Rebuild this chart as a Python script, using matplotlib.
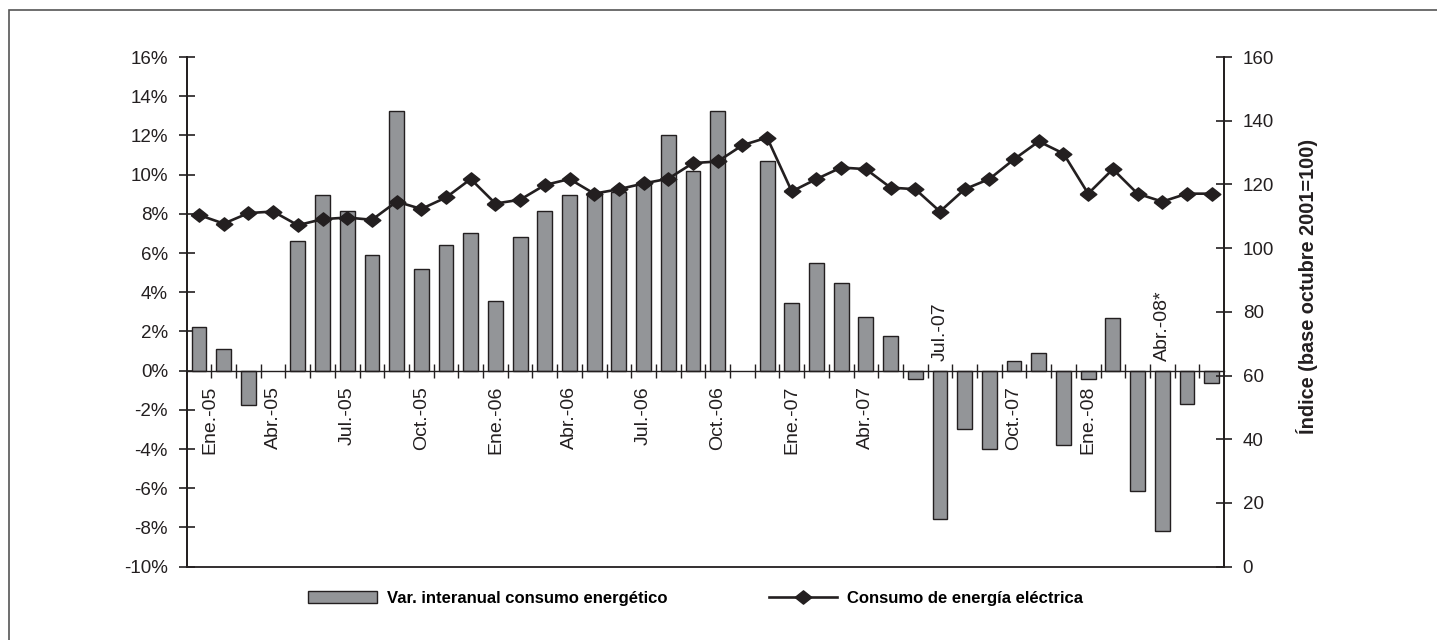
import numpy as np
import matplotlib
matplotlib.use('Agg')
import matplotlib.pyplot as plt
from matplotlib.patches import Rectangle

plt.rcParams['font.family'] = ['Liberation Sans', 'DejaVu Sans']

# monthly categories Ene-05 .. Jun-08
meses = ['Ene.', 'Feb.', 'Mar.', 'Abr.', 'May.', 'Jun.',
         'Jul.', 'Ago.', 'Sep.', 'Oct.', 'Nov.', 'Dic.']
anios = ['05', '06', '07', '08']
categories = [m + '-' + a for a in anios for m in meses][:42]

# interannual variation of energy consumption (%), nan = no bar
var_interanual = [2.24, 1.12, -1.75, np.nan, 6.63, 8.98, 8.16, 5.92, 13.27, 5.20, 6.43, 7.04,
                  3.57, 6.84, 8.16, 8.98, 9.08, 9.10, 9.59, 12.04, 10.20, 13.27, np.nan, 10.71,
                  3.47, 5.51, 4.49, 2.76, 1.77, -0.41, -7.57, -2.97, -3.99, 0.51, 0.92, -3.79,
                  -0.41, 2.67, -6.12, -8.18, -1.72, -0.61]

# electricity consumption index (base octubre 2001 = 100)
consumo_electrico = [110.4, 107.7, 111.0, 111.5, 107.2, 109.1, 109.6, 108.9, 114.6, 112.3, 115.9, 121.7,
                     114.0, 115.2, 119.8, 121.7, 117.1, 118.5, 120.3, 121.8, 126.7, 127.2, 132.3, 134.7,
                     117.8, 121.7, 125.3, 124.8, 119.0, 118.5, 111.5, 118.5, 121.7, 127.9, 133.5, 129.7,
                     117.1, 124.8, 117.1, 114.6, 117.1, 117.1]

# shown category labels (every third month), some written above the axis
shown_labels = {'Ene.-05': 'Ene.-05', 'Abr.-05': 'Abr.-05', 'Jul.-05': 'Jul.-05', 'Oct.-05': 'Oct.-05',
                'Ene.-06': 'Ene.-06', 'Abr.-06': 'Abr.-06', 'Jul.-06': 'Jul.-06', 'Oct.-06': 'Oct.-06',
                'Ene.-07': 'Ene.-07', 'Abr.-07': 'Abr.-07', 'Jul.-07': 'Jul.-07', 'Oct.-07': 'Oct.-07',
                'Ene.-08': 'Ene.-08', 'Abr.-08': 'Abr.-08*'}
labels_above = ['Jul.-07', 'Abr.-08']

left_ticks = list(range(-10, 17, 2))
right_ticks = list(range(0, 161, 20))

BAR_GREY = '#939598'
INK = '#231f20'
FS = 13.5

fig = plt.figure(figsize=(14.37, 6.4), dpi=100)
ax = fig.add_axes([186.7 / 1437, 1 - 566.7 / 640, (1224 - 186.7) / 1437, (566.7 - 57) / 640])
ax2 = ax.twinx()

x = np.arange(len(categories))
bars = ax.bar(x, var_interanual, width=0.6, color=BAR_GREY, edgecolor=INK, linewidth=1.0,
              label='Var. interanual consumo energético', zorder=2)

diamond = [(-1, 0), (0, 0.8), (1, 0), (0, -0.8), (-1, 0)]
line, = ax2.plot(x, consumo_electrico, color=INK, lw=1.9, marker=diamond, markersize=12,
                 markerfacecolor=INK, markeredgecolor=INK, label='Consumo de energía eléctrica', zorder=3)

ax.set_xlim(-0.5, len(categories) - 0.5)
ax.set_ylim(-10, 16)
ax2.set_ylim(0, 160)

# spines
for a in (ax, ax2):
    a.spines['top'].set_visible(False)
    for s in a.spines.values():
        s.set_linewidth(1.3)
        s.set_color(INK)
ax.spines['bottom'].set_position(('data', 0))
ax.spines['bottom'].set_linewidth(1.0)
ax2.spines['bottom'].set_visible(False)
ax.axhline(-10, color=INK, lw=1.3, clip_on=False, zorder=1)

ax.set_yticks(left_ticks)
ax.set_yticklabels(['%d%%' % v for v in left_ticks])
ax2.set_yticks(right_ticks)
ax2.set_yticklabels([str(v) for v in right_ticks])
ax.tick_params(axis='y', direction='inout', length=11, width=1.2, pad=8, labelsize=FS, colors=INK)
ax2.tick_params(axis='y', direction='inout', length=11, width=1.2, pad=8, labelsize=FS, colors=INK)

# category boundaries as ticks, labels drawn as text
ax.set_xticks(np.arange(0.5, len(categories) - 1, 1.0))
ax.set_xticklabels([])
ax.tick_params(axis='x', direction='inout', length=10, width=1.0, colors=INK)

for i, cat in enumerate(categories):
    if cat not in shown_labels:
        continue
    dx = 8 if i == 0 else 0
    if cat in labels_above:
        ax.annotate(shown_labels[cat], xy=(i, 0), xytext=(dx, 7), textcoords='offset points',
                    rotation=90, ha='center', va='bottom', fontsize=14, color=INK)
    else:
        ax.annotate(shown_labels[cat], xy=(i, 0), xytext=(dx, -11), textcoords='offset points',
                    rotation=90, ha='center', va='top', fontsize=14, color=INK)

ax2.set_ylabel('Índice (base octubre 2001=100)', fontsize=14.3, fontweight='bold', color=INK)
ax2.yaxis.set_label_coords(1.069, 0.55)

fig.legend(handles=[bars, line], loc='center left', bbox_to_anchor=(300 / 1437, 1 - 598 / 640),
           ncol=2, frameon=False, borderpad=0, handlelength=4.1, handletextpad=0.6,
           columnspacing=6.1, prop={'weight': 'bold', 'size': 12}, numpoints=1)

# outer frame (right and bottom edges fall outside the picture)
fig.patches.append(Rectangle((9 / 1437, -0.1), 1.2, 1 - 10 / 640 + 0.1, transform=fig.transFigure,
                             fill=False, edgecolor='#555555', lw=1.2))

fig.savefig('out.png', dpi=100)
